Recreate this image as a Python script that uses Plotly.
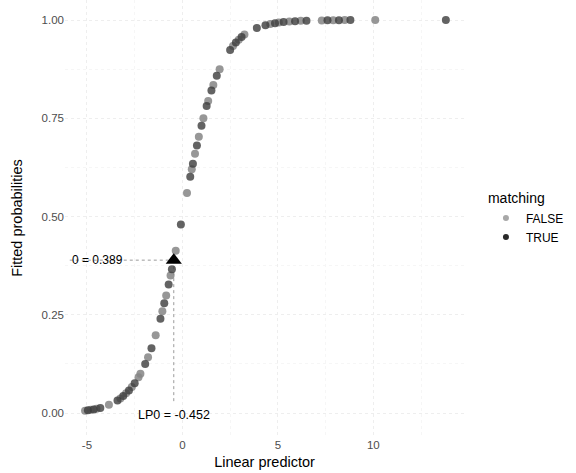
import plotly.graph_objects as go

# Linear predictor values and fitted probabilities, by matching group
lp_false = [-5.10, -4.80, -4.50, -3.85, -3.25, -2.95, -2.65, -2.30, -2.20, -1.80,
            -1.40, -1.05, -0.85, -0.62, -0.35, 0.24, 0.49, 0.66, 0.86, 1.10,
            1.35, 1.62, 1.95, 2.65, 2.95, 3.25, 4.60, 5.05, 5.60, 6.20, 7.30,
            7.90, 8.50, 10.10]
p_false = [0.006, 0.008, 0.011, 0.021, 0.037, 0.050, 0.066, 0.091, 0.100, 0.142,
           0.198, 0.259, 0.299, 0.350, 0.413, 0.560, 0.620, 0.660, 0.703, 0.750,
           0.794, 0.835, 0.875, 0.934, 0.950, 0.963, 0.990, 0.994, 0.996, 0.998,
           0.999, 0.9996, 0.9998, 0.99996]

lp_true = [-4.95, -4.65, -4.30, -3.40, -3.10, -2.80, -2.50, -1.95, -1.62, -1.15,
           -0.95, -0.72, -0.55, -0.08, 0.41, 0.55, 0.76, 1.00, 1.27, 1.52,
           1.80, 2.50, 2.80, 3.10, 3.90, 4.35, 4.85, 5.30, 5.90, 6.50, 7.60,
           8.20, 8.80, 13.80]
p_true = [0.007, 0.009, 0.013, 0.032, 0.043, 0.057, 0.076, 0.125, 0.165, 0.240,
          0.279, 0.327, 0.366, 0.480, 0.601, 0.634, 0.681, 0.731, 0.781, 0.821,
          0.858, 0.924, 0.943, 0.957, 0.980, 0.987, 0.992, 0.995, 0.997, 0.998,
          0.9995, 0.9997, 0.9998, 0.99999]

lp0 = -0.452
p0 = 0.389
x_ticks = [-5, 0, 5, 10]
y_ticks = [0.00, 0.25, 0.50, 0.75, 1.00]
y_tick_labels = ["0.00", "0.25", "0.50", "0.75", "1.00"]

FONT = "Liberation Sans, Arial, Helvetica, sans-serif"
C_FALSE = "#858585"
C_TRUE = "#3c3c3c"

fig = go.Figure()

# reference segments
fig.add_trace(go.Scatter(x=[-5.9, lp0], y=[p0, p0], mode="lines",
                         line=dict(color="#9a9a9a", width=1, dash="dot"),
                         showlegend=False, hoverinfo="skip"))
fig.add_trace(go.Scatter(x=[lp0, lp0], y=[p0, 0.025], mode="lines",
                         line=dict(color="#9a9a9a", width=1, dash="dot"),
                         showlegend=False, hoverinfo="skip"))

fig.add_trace(go.Scatter(x=lp_false, y=p_false, mode="markers", name="FALSE",
                         showlegend=False,
                         marker=dict(size=8, color=C_FALSE, opacity=0.85,
                                     line=dict(width=0))))
fig.add_trace(go.Scatter(x=lp_true, y=p_true, mode="markers", name="TRUE",
                         showlegend=False,
                         marker=dict(size=8, color=C_TRUE, opacity=0.8,
                                     line=dict(width=0))))

# legend keys (smaller than plotted points)
fig.add_trace(go.Scatter(x=[None], y=[None], mode="markers", name="FALSE",
                         marker=dict(size=6, color="#a8a8a8")))
fig.add_trace(go.Scatter(x=[None], y=[None], mode="markers", name="TRUE",
                         marker=dict(size=6, color="#2a2a2a")))

fig.add_trace(go.Scatter(x=[lp0], y=[p0], mode="markers",
                         marker=dict(symbol="triangle-up", size=14, color="black"),
                         showlegend=False, hoverinfo="skip"))

fig.add_annotation(x=-5.9, y=p0, text="0 = 0.389", showarrow=False,
                   xanchor="left", yanchor="middle",
                   font=dict(family=FONT, size=12, color="black"))
fig.add_annotation(x=lp0, y=-0.005, text="LP0 = -0.452", showarrow=False,
                   xanchor="center", yanchor="middle",
                   font=dict(family=FONT, size=12.5, color="black"))

fig.update_layout(
    width=576, height=473,
    margin=dict(l=65, r=112, t=0, b=37, autoexpand=False),
    paper_bgcolor="white", plot_bgcolor="white",
    font=dict(family=FONT, color="black"),
    legend=dict(
        title=dict(text="matching", font=dict(size=14, family=FONT)),
        font=dict(size=12, family=FONT),
        x=1.055, xanchor="left", y=0.575, yanchor="top",
        bgcolor="rgba(0,0,0,0)",
    ),
    xaxis=dict(
        range=[-6.15, 14.75], tickvals=x_ticks,
        ticktext=[str(v) for v in x_ticks],
        showgrid=True, gridcolor="#eeeeee", griddash="dot", gridwidth=1,
        minor=dict(tickvals=[-2.5, 2.5, 7.5, 12.5], showgrid=True,
                   gridcolor="#f6f6f6", griddash="dot"),
        zeroline=False, showline=False, ticks="", automargin=False,
        tickfont=dict(size=11.5, color="#4d4d4d", family=FONT),
        title=dict(text="Linear predictor", font=dict(size=14.5, family=FONT),
                   standoff=7),
    ),
    yaxis=dict(
        range=[-0.0585, 1.051], tickvals=y_ticks, ticktext=y_tick_labels,
        showgrid=True, gridcolor="#eeeeee", griddash="dot", gridwidth=1,
        minor=dict(tickvals=[0.125, 0.375, 0.625, 0.875], showgrid=True,
                   gridcolor="#f6f6f6", griddash="dot"),
        zeroline=False, showline=False, ticks="", automargin=False,
        tickfont=dict(size=11.5, color="#4d4d4d", family=FONT),
        title=dict(text="Fitted probabilities", font=dict(size=14.5, family=FONT),
                   standoff=15),
    ),
)

fig.write_html("out.html",
               config={"displayModeBar": False},
               post_script="document.body.style.margin='0px';")
